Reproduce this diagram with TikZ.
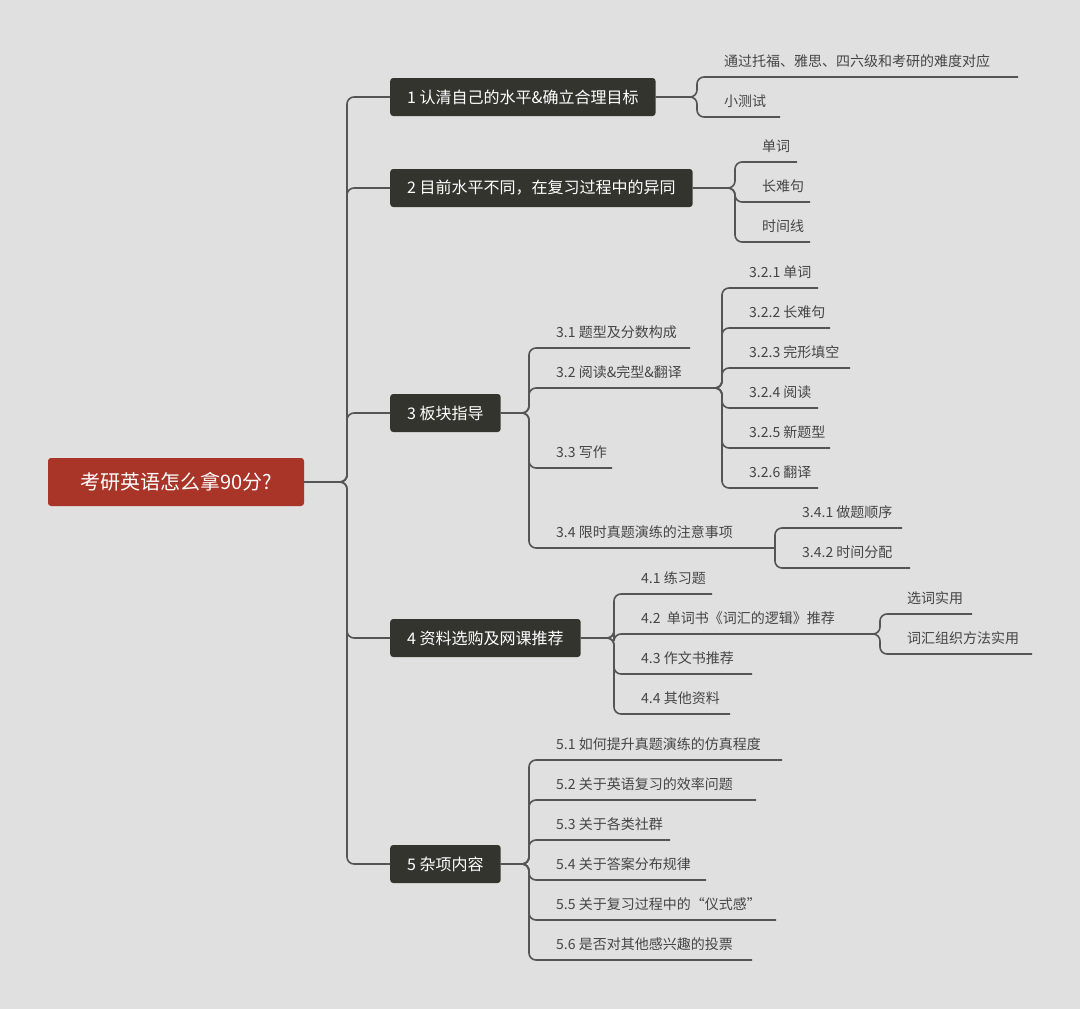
\documentclass[tikz,border=0pt]{standalone}
\usepackage{fontspec}
\setmainfont{Noto Sans CJK SC}
\definecolor{bg}{HTML}{E0E0E0}
\definecolor{dark}{HTML}{34342F}
\definecolor{rootc}{HTML}{A83527}
\definecolor{ln}{HTML}{555555}
\definecolor{tx}{HTML}{454545}
\tikzset{
 conn/.style={draw=ln,line width=1.6pt,rounded corners=7pt},
 box/.style={fill=dark,text=white,rounded corners=3pt,minimum height=38pt,inner xsep=17pt,font=\fontsize{16}{18}\selectfont,anchor=west},
 leaf/.style={text=tx,font=\fontsize{14}{16}\selectfont,inner sep=0pt,anchor=base west}
}
\newcommand\leaf[5]{% name, branch x, underline y, end x, text
 \coordinate (#1s) at (#2,#3); \coordinate (#1e) at (#4,#3);
 \node[leaf] (#1) at (#2+27,#3-11) {#5};}
\newcommand\con[2]{\draw[conn] (#1) -- (#1 -| #2s) -- (#2s) -- (#2e);}
\begin{document}
\begin{tikzpicture}[x=1pt,y=-1pt]
\fill[bg] (0,0) rectangle (1080,1009);
\node[fill=rootc,text=white,rounded corners=3pt,minimum width=256pt,minimum height=48pt,font=\fontsize{20}{22}\selectfont] (root) at (176,482) {考研英语怎么拿90分?};
\coordinate (tr) at (347,0);
\node[box] (b1) at (390,97) {1 认清自己的水平\&确立合理目标};
\node[box] (b2) at (390,188) {2 目前水平不同，在复习过程中的异同};
\node[box] (b3) at (390,413) {3 板块指导};
\node[box] (b4) at (390,638) {4 资料选购及网课推荐};
\node[box] (b5) at (390,864) {5 杂项内容};
\foreach \b in {b1,b2,b3,b4,b5}{\draw[conn] (root.east) -- (root.east -| tr) -- (tr |- \b.west) -- (\b.west);}
% box1
\leaf{a1}{697}{77}{1018}{通过托福、雅思、四六级和考研的难度对应}
\leaf{a2}{697}{117}{780}{小测试}
\con{b1.east}{a1}\con{b1.east}{a2}
% box2
\leaf{c1}{735}{162}{797}{单词}
\leaf{c2}{735}{202}{810}{长难句}
\leaf{c3}{735}{242}{810}{时间线}
\con{b2.east}{c1}\con{b2.east}{c2}\con{b2.east}{c3}
% box3
\leaf{d1}{529}{348}{690}{3.1 题型及分数构成}
\leaf{d2}{529}{388}{700}{3.2 阅读\&完型\&翻译}
\leaf{d3}{529}{468}{612}{3.3 写作}
\leaf{d4}{529}{548}{775}{3.4 限时真题演练的注意事项}
\con{b3.east}{d1}\con{b3.east}{d2}\con{b3.east}{d3}\con{b3.east}{d4}
\leaf{e1}{722}{288}{818}{3.2.1 单词}
\leaf{e2}{722}{328}{830}{3.2.2 长难句}
\leaf{e3}{722}{368}{850}{3.2.3 完形填空}
\leaf{e4}{722}{408}{818}{3.2.4 阅读}
\leaf{e5}{722}{448}{830}{3.2.5 新题型}
\leaf{e6}{722}{488}{818}{3.2.6 翻译}
\foreach \n in {e1,e2,e3,e4,e5,e6}{\con{d2e}{\n}}
\leaf{f1}{775}{528}{902}{3.4.1 做题顺序}
\leaf{f2}{775}{568}{910}{3.4.2 时间分配}
\con{d4e}{f1}\con{d4e}{f2}
% box4
\leaf{g1}{614}{594}{712}{4.1 练习题}
\leaf{g2}{614}{634}{862}{4.2\ \ 单词书《词汇的逻辑》推荐}
\leaf{g3}{614}{674}{752}{4.3 作文书推荐}
\leaf{g4}{614}{714}{730}{4.4 其他资料}
\foreach \n in {g1,g2,g3,g4}{\con{b4.east}{\n}}
\leaf{h1}{880}{614}{972}{选词实用}
\leaf{h2}{880}{654}{1032}{词汇组织方法实用}
\con{g2e}{h1}\con{g2e}{h2}
% box5
\leaf{k1}{529}{760}{782}{5.1 如何提升真题演练的仿真程度}
\leaf{k2}{529}{800}{756}{5.2 关于英语复习的效率问题}
\leaf{k3}{529}{840}{670}{5.3 关于各类社群}
\leaf{k4}{529}{880}{706}{5.4 关于答案分布规律}
\leaf{k5}{529}{920}{776}{5.5 关于复习过程中的“仪式感”}
\leaf{k6}{529}{960}{752}{5.6 是否对其他感兴趣的投票}
\foreach \n in {k1,k2,k3,k4,k5,k6}{\con{b5.east}{\n}}
\end{tikzpicture}
\end{document}
